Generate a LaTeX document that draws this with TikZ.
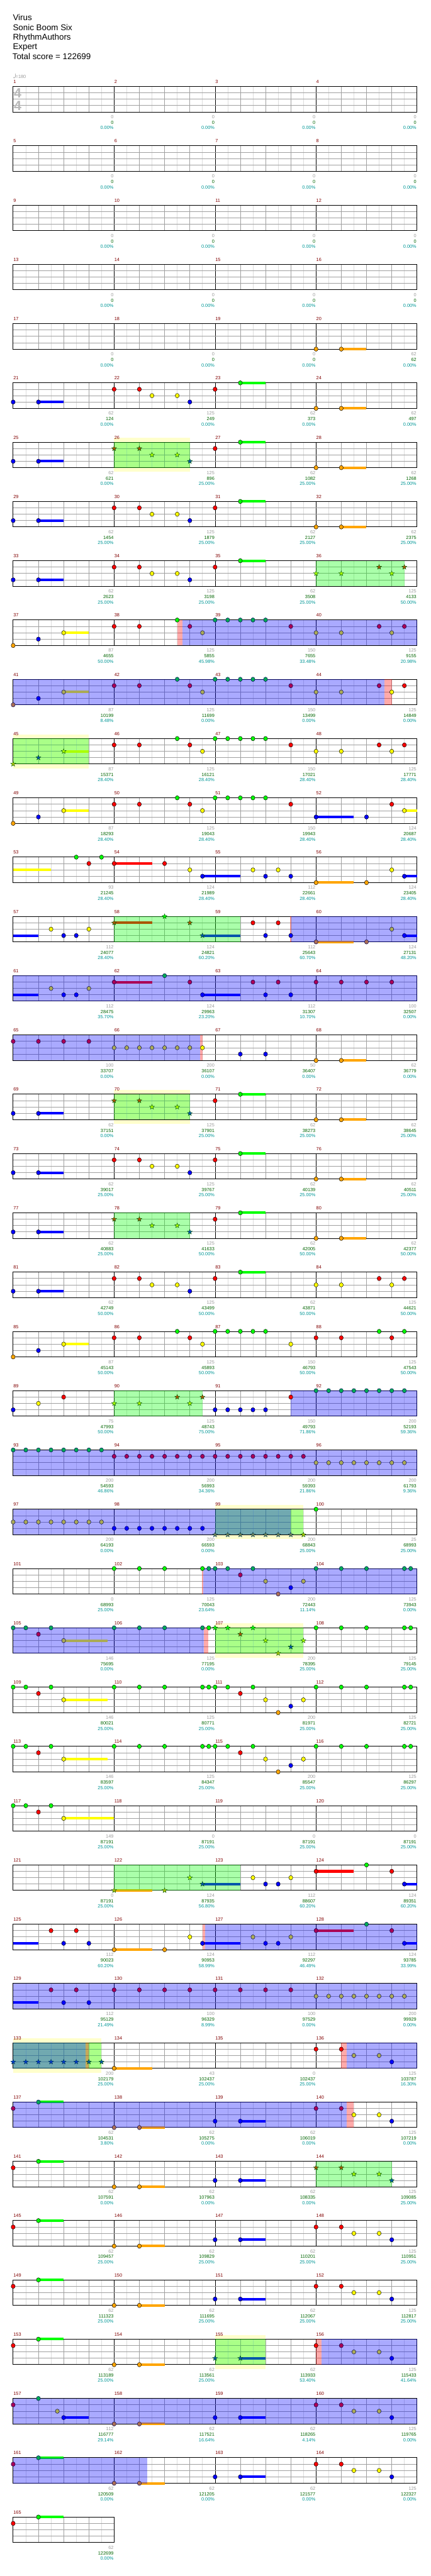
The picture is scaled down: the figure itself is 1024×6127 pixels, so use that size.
\documentclass[tikz,border=0pt]{standalone}
\usepackage{fontspec}
\setmainfont{Liberation Sans}

% lane colours: plain, overdrive (o), star phrase (s), both (t)
\definecolor{n0}{RGB}{0,255,0}\definecolor{n1}{RGB}{255,0,0}\definecolor{n2}{RGB}{255,255,0}
\definecolor{n3}{RGB}{0,0,255}\definecolor{n4}{RGB}{255,165,0}\definecolor{nline}{RGB}{0,0,0}
\definecolor{o0}{RGB}{0,170,85}\definecolor{o1}{RGB}{170,0,85}\definecolor{o2}{RGB}{170,170,85}
\definecolor{o3}{RGB}{0,0,255}\definecolor{o4}{RGB}{170,110,85}\definecolor{oline}{RGB}{0,0,85}
\definecolor{s0}{RGB}{0,255,0}\definecolor{s1}{RGB}{170,85,0}\definecolor{s2}{RGB}{170,255,0}
\definecolor{s3}{RGB}{0,85,170}\definecolor{s4}{RGB}{170,195,0}\definecolor{sline}{RGB}{0,85,0}
\definecolor{t0}{RGB}{0,170,85}\definecolor{t1}{RGB}{113,57,85}\definecolor{t2}{RGB}{113,170,85}
\definecolor{t3}{RGB}{0,57,198}\definecolor{t4}{RGB}{113,130,85}\definecolor{tline}{RGB}{0,57,85}
\definecolor{gridlight}{RGB}{221,221,221}
\definecolor{gridmid}{RGB}{160,160,160}
\definecolor{barred}{RGB}{128,0,0}
\definecolor{ptgray}{RGB}{155,155,155}
\definecolor{ptgreen}{RGB}{0,100,0}
\definecolor{ptteal}{RGB}{0,150,150}
\definecolor{sigray}{RGB}{185,185,185}

\tikzset{
  finegrid/.style={draw=gridlight, line width=0.8pt},
  beatgrid/.style={draw=gridmid, line width=0.8pt},
  bargrid/.style={draw=black, line width=0.9pt},
  lanegrid/.style={draw=gridmid, line width=1.2pt},
  staffframe/.style={draw=black, line width=1.5pt},
  barnum/.style={anchor=base west, inner sep=0pt, text=barred, font=\fontsize{11}{13}\selectfont},
  ptsgray/.style={anchor=base east, inner sep=0pt, text=ptgray, font=\fontsize{11}{13}\selectfont},
  ptstotal/.style={anchor=base east, inner sep=0pt, text=ptgreen, font=\fontsize{11}{13}\selectfont},
  ptspct/.style={anchor=base east, inner sep=0pt, text=ptteal, font=\fontsize{11}{13}\selectfont},
  titletext/.style={anchor=base west, inner sep=0pt, font=\fontsize{20}{24}\selectfont},
  gemstyle/.style={line width=0.7pt},
  starstyle/.style={line width=0.6pt},
  susstyle/.style={line width=6pt},
  spzone/.style={fill=n0, fill opacity=0.333},
  odzone/.style={fill=n3, fill opacity=0.333},
  actzone/.style={fill=n1, fill opacity=0.333},
  bandzone/.style={fill=n2, fill opacity=0.2},
}

% ---------- row helpers ----------
\newcommand\setrow[1]{\pgfmathsetmacro\rowy{205.7+141*(#1-1)}\pgfmathtruncatemacro\currow{#1}}
\newcommand\staff[2]{% first measure, number of measures
  \pgfmathsetmacro\xend{31.3+240*#2}
  \foreach \m in {1,...,#2}{%
    \pgfmathsetmacro\xm{31.3+240*(\m-1)}
    \pgfmathtruncatemacro\mnum{#1+\m-1}
    \foreach \e in {1,3,5,7} \draw[finegrid] ({\xm+30*\e},\rowy) -- ++(0,60.6);
    \foreach \e in {2,4,6} \draw[beatgrid] ({\xm+30*\e},\rowy) -- ++(0,60.6);
    \ifnum\m>1 \draw[bargrid] (\xm,\rowy) -- ++(0,60.6);\fi
    \node[barnum] (bar\mnum) at ({\xm+0.5},{\rowy-7.5}) {\mnum};
  }
  \foreach \l in {1,2,3} \draw[lanegrid] (31.3,{\rowy+15.15*\l}) -- (\xend,{\rowy+15.15*\l});
  \draw[staffframe] (31.3,\rowy) rectangle (\xend,{\rowy+60.6});
}
\newcommand\band[2]{\fill[bandzone] ({31.3+30*#1},{\rowy-10.3}) rectangle ({31.3+30*#2},{\rowy+70.9});}
\newcommand\zone[3]{\fill[#1] ({31.3+30*#2},\rowy) rectangle ({31.3+30*#3},{\rowy+60.6});}
\newcommand\sus[1]{\foreach \a/\b/\l in {#1}{\draw[susstyle, draw=n\l] ({31.3+30*\a},{\rowy+15.15*\l}) -- ({31.3+30*\b},{\rowy+15.15*\l});}}
\newcommand\gems[2]{\foreach \p/\l in {#2}{\filldraw[gemstyle, fill=#1\l, draw=#1line] ({31.3+30*\p},{\rowy+15.15*\l}) ellipse [x radius=4.8, y radius=5.2];}}
\newcommand\stars[2]{\foreach \p/\l in {#2}{%
  \pgfmathsetmacro\px{31.3+30*\p}\pgfmathsetmacro\py{\rowy+15.15*\l}
  \filldraw[starstyle, fill=#1\l, draw=#1line] (\px,{\py-6.2})
    \foreach \k in {1,...,9}{ -- ({\px+(4.4+1.8*cos(180*\k))*cos(90+36*\k)},{\py-(4.4+1.8*cos(180*\k))*sin(90+36*\k)}) } -- cycle;}}
\newcommand\scores[3]{%
  \foreach \v [count=\i] in {#1} \node[ptsgray] (pts-\currow-\i) at ({31.3+240*\i-1.2},{\rowy+76.4}) {\v};
  \foreach \v [count=\i] in {#2} \node[ptstotal] (tot-\currow-\i) at ({31.3+240*\i-1.2},{\rowy+89.8}) {\v};
  \foreach \v [count=\i] in {#3} \node[ptspct] (pct-\currow-\i) at ({31.3+240*\i-1.2},{\rowy+102.4}) {\v\%};
}
% repeated phrases
\newcommand\patA{\sus{2/4/3,18/20/0,26/28/4}\gems{n}{0/3,2/3,8/1,10/1,11/2,13/2,14/3,16/1,18/0,24/4,26/4}}
\newcommand\patAstar{\sus{2/4/3,18/20/0,26/28/4}\zone{spzone}{8}{14}\gems{n}{0/3,2/3,16/1,18/0,24/4,26/4}\stars{s}{8/1,10/1,11/2,13/2,14/3}}
\newcommand\patC{\sus{4/7.47/2}\gems{n}{0/0,1/0,3/0,2/1,4/2,8/0,10/0,12/0,15/0,15.5/0,16/0,17/0,19/0,18/1,20/2,21/4,22/3,23/2,24/0,26/0,28/0,31/0,31.5/0}}
\newcommand\patD{\sus{2/4/0,10/12/4,18/20/3}\gems{n}{0/1,2/0,8/4,10/4,16/3,18/3,24/1,26/1,27/2,29/2,30/3}}

\begin{document}
\begin{tikzpicture}[x=1pt,y=-1pt]
\useasboundingbox (0,0) rectangle (1024,6127);
% ---------- header ----------
\node[titletext] (song) at (30.5,49.3) {Virus};
\node[titletext] (artist) at (30.5,72) {Sonic Boom Six};
\node[titletext] (charter) at (30.5,95) {RhythmAuthors};
\node[titletext] (level) at (30.5,118) {Expert};
\node[titletext] (total) at (29.5,140.7) {Total score = 122699};
\fill[sigray] (33.6,184.6) ellipse [x radius=2.3, y radius=1.7];
\draw[sigray, line width=0.6pt] (35.7,184.3) -- (35.7,175.2);
\node[anchor=base west, inner sep=0pt, text=ptgray, font=\fontsize{11}{13}\selectfont] (tempo) at (36.8,186.2) {=180};
% ---------- measures 1-20 ----------
\setrow{1}\staff{1}{4}
\node[anchor=base west, inner sep=0pt, text=sigray, font=\fontsize{32}{34}\selectfont\bfseries] (sigtop) at (33,232.3) {4};
\node[anchor=base west, inner sep=0pt, text=sigray, font=\fontsize{32}{34}\selectfont\bfseries] (sigbot) at (33,262.3) {4};
\scores{0,0,0,0}{0,0,0,0}{0.00,0.00,0.00,0.00}
\foreach \r in {2,3,4}{\setrow{\r}\pgfmathtruncatemacro\fm{4*\r-3}\staff{\fm}{4}\scores{0,0,0,0}{0,0,0,0}{0.00,0.00,0.00,0.00}}
\setrow{5}\staff{17}{4}\sus{26/28/4}\gems{n}{24/4,26/4}
\scores{0,0,0,62}{0,0,0,62}{0.00,0.00,0.00,0.00}
% ---------- measures 21-44 ----------
\setrow{6}\staff{21}{4}\patA
\scores{62,125,62,62}{124,249,373,497}{0.00,0.00,0.00,0.00}
\setrow{7}\band{8}{14}\staff{25}{4}\patAstar
\scores{62,125,62,62}{621,896,1082,1268}{0.00,25.00,25.00,25.00}
\setrow{8}\staff{29}{4}\patA
\scores{62,125,62,62}{1454,1879,2127,2375}{25.00,25.00,25.00,25.00}
\setrow{9}\staff{33}{4}\sus{2/4/3,18/20/0}\zone{spzone}{24}{31}
\gems{n}{0/3,2/3,8/1,10/1,11/2,13/2,14/3,16/1,18/0}\stars{s}{24/2,26/2,29/1,30/2,31/1}
\scores{62,125,62,125}{2623,3198,3508,4133}{25.00,25.00,25.00,50.00}
\setrow{10}\staff{37}{4}\sus{4/6/2}\zone{actzone}{13}{13.4}\zone{odzone}{13.4}{32}
\gems{n}{0/4,2/3,4/2,8/1,10/1,13/0}
\gems{o}{14/1,15/2,16/0,17/0,18/0,19/0,20/0,22/1,24/2,26/2,29/1,30/2,31/1}
\scores{87,125,150,125}{4655,5855,7655,9155}{50.00,45.98,33.48,20.98}
\setrow{11}\staff{41}{4}\sus{4/6/2}\zone{odzone}{0}{29.43}\zone{actzone}{29.43}{30}
\gems{o}{0/4,2/3,4/2,8/1,10/1,13/0,14/1,15/2,16/0,17/0,18/0,19/0,20/0,22/1,24/2,26/2,29/1}
\gems{n}{30/2,31/1}
\scores{87,125,150,125}{10199,11699,13499,14849}{8.48,0.00,0.00,0.00}
% ---------- measures 45-64 ----------
\setrow{12}\band{0}{6}\staff{45}{4}\sus{4/6/2}\zone{spzone}{0}{6}
\stars{s}{0/4,2/3,4/2}
\gems{n}{8/1,10/1,13/0,14/1,15/2,16/0,17/0,18/0,19/0,20/0,22/1,24/2,26/2,29/1,30/2,31/1}
\scores{87,125,150,125}{15371,16121,17021,17771}{28.40,28.40,28.40,28.40}
\setrow{13}\staff{49}{4}\sus{4/6/2,24/27/3,31/32/2}
\gems{n}{0/4,2/3,4/2,8/1,10/1,13/0,14/1,15/2,16/0,17/0,18/0,19/0,20/0,22/1,24/3,28/3,30/1,31/2}
\scores{87,125,150,124}{18293,19043,19943,20687}{28.40,28.40,28.40,28.40}
\setrow{14}\staff{53}{4}\sus{0/3/2,8/11/1,15/18/3,24/27/4,31/32/3}
\gems{n}{5/0,6/1,7/0,8/1,12/1,14/2,15/3,19/2,20/3,21/2,22/3,24/4,28/4,30/2,31/3}
\scores{93,124,112,124}{21245,21989,22661,23405}{28.40,28.40,28.40,28.40}
\setrow{15}\staff{57}{4}\sus{0/2/3,8/11/1,15/18/3,24/27/4,31/32/3}
\zone{spzone}{8}{18}\zone{actzone}{21.95}{22.05}\zone{odzone}{22.05}{32}
\gems{n}{3/2,4/3,5/3,6/2,19/1,20/3,21/1,22/3}\stars{s}{8/1,12/0,14/1,15/3}
\gems{o}{24/4,28/4,30/2,31/3}
\scores{112,124,112,124}{24077,24821,25643,27131}{28.40,60.20,60.70,48.20}
\setrow{16}\staff{61}{4}\sus{0/2/3,8/11/1,15/18/3}\zone{odzone}{0}{32}
\gems{o}{3/2,4/3,5/3,6/2,8/1,12/0,14/1,15/3,19/1,20/3,21/1,22/3,24/1,26/1,28/1,30/1}
\scores{112,124,112,100}{28475,29963,31307,32507}{35.70,23.20,10.70,0.00}
% ---------- measures 65-84 ----------
\setrow{17}\staff{65}{4}\sus{26/28/4}\zone{odzone}{0}{14.8}\zone{actzone}{14.8}{15}
\gems{o}{0/1,2/1,4/1,6/1,8/2,9/2,10/2,11/2,12/2,13/2,14/2}\gems{n}{15/2,18/3,20/3,24/4,26/4}
\scores{100,200,50,62}{33707,36107,36407,36779}{0.00,0.00,0.00,0.00}
\setrow{18}\band{8}{14}\staff{69}{4}\patAstar
\scores{62,125,62,62}{37151,37901,38273,38645}{0.00,25.00,25.00,25.00}
\setrow{19}\staff{73}{4}\patA
\scores{62,125,62,62}{39017,39767,40139,40511}{25.00,25.00,25.00,25.00}
\setrow{20}\staff{77}{4}\patAstar
\scores{62,125,62,62}{40883,41633,42005,42377}{25.00,50.00,50.00,50.00}
\setrow{21}\staff{81}{4}\sus{2/4/3,18/20/0}
\gems{n}{0/3,2/3,8/1,10/1,11/2,13/2,14/3,16/1,18/0,24/2,26/2,29/1,30/2,31/1}
\scores{62,125,62,125}{42749,43499,43871,44621}{50.00,50.00,50.00,50.00}
% ---------- measures 85-104 ----------
\setrow{22}\staff{85}{4}\sus{4/6/2}
\gems{n}{0/4,2/3,4/2,8/1,10/1,13/0,14/1,15/2,16/0,17/0,18/0,19/0,20/0,22/2,24/1,26/1,29/0,30/1,31/0}
\scores{87,125,150,125}{45143,45893,46793,47543}{50.00,50.00,50.00,50.00}
\setrow{23}\staff{89}{4}\zone{spzone}{8}{15}\zone{odzone}{22}{32}
\gems{n}{0/3,2/2,4/1,16/3,17/3,18/3,19/3,20/3,22/1}\stars{s}{8/2,10/2,13/1,14/2,15/1}
\gems{o}{24/0,25/0,26/0,27/0,28/0,29/0,30/0,31/0}
\scores{75,125,150,200}{47993,48743,49793,52193}{50.00,75.00,71.86,59.36}
\setrow{24}\staff{93}{4}\zone{odzone}{0}{32}
\gems{o}{0/0,1/0,2/0,3/0,4/0,5/0,6/0,7/0,8/1,9/1,10/1,11/1,12/1,13/1,14/1,15/1,16/1,17/1,18/1,19/1,20/1,21/1,22/1,23/1,24/2,25/2,26/2,27/2,28/2,29/2,30/2,31/2}
\scores{200,200,200,200}{54593,56993,59393,61793}{46.86,34.36,21.86,9.36}
\setrow{25}\band{16}{23}\staff{97}{4}\zone{spzone}{16}{23}\zone{odzone}{0}{22}
\gems{o}{0/2,1/2,2/2,3/2,4/2,5/2,6/2,7/2,8/3,9/3,10/3,11/3,12/3,13/3,14/3,15/3}
\stars{t}{16/4,17/4,18/4,19/4,20/4,21/4,22/4}\stars{s}{23/4}\gems{n}{24/0}
\scores{200,200,200,25}{64193,66593,68843,68993}{0.00,0.00,25.00,25.00}
\setrow{26}\staff{101}{4}\zone{actzone}{14.97}{15.07}\zone{odzone}{15.07}{32}
\gems{n}{8/0,10/0,12/0,15/0}
\gems{o}{15.5/0,16/0,17/0,19/0,18/1,20/2,21/4,22/3,23/2,24/0,26/0,28/0,31/0,31.5/0}
\scores{0,125,200,125}{68993,70043,72443,73943}{25.00,23.64,11.14,0.00}
% ---------- measures 105-124 ----------
\setrow{27}\band{16}{23}\staff{105}{4}\sus{4/7.47/2}
\zone{odzone}{0}{15.13}\zone{actzone}{15.13}{15.47}\zone{spzone}{16}{23}
\gems{o}{0/0,1/0,3/0,2/1,4/2,8/0,10/0,12/0,15/0}\gems{n}{15.5/0,24/0,26/0,28/0,31/0,31.5/0}
\stars{s}{16/0,17/0,19/0,18/1,20/2,21/4,22/3,23/2}
\scores{146,125,200,125}{75695,77195,78395,79145}{0.00,0.00,25.00,25.00}
\setrow{28}\staff{109}{4}\patC
\scores{146,125,200,125}{80021,80771,81971,82721}{25.00,25.00,25.00,25.00}
\setrow{29}\staff{113}{4}\patC
\scores{146,125,200,125}{83597,84347,85547,86297}{25.00,25.00,25.00,25.00}
\setrow{30}\staff{117}{4}\sus{4/8/2}\gems{n}{0/0,1/0,3/0,2/1,4/2}
\scores{149,0,0,0}{87191,87191,87191,87191}{25.00,25.00,25.00,25.00}
\setrow{31}\staff{121}{4}\sus{8/11/4,15/18/3,24/27/1,31/32/3}\zone{spzone}{8}{18}
\stars{s}{8/4,12/4,14/2,15/3}\gems{n}{19/2,20/3,21/3,22/2,24/1,28/0,30/1,31/3}
\scores{0,124,112,124}{87191,87935,88607,89351}{25.00,56.80,60.20,60.20}
% ---------- measures 125-144 ----------
\setrow{32}\staff{125}{4}\sus{0/2/3,8/11/4,15/18/3,24/27/1,31/32/3}
\zone{actzone}{15}{15.2}\zone{odzone}{15.2}{32}
\gems{n}{3/1,5/1,4/3,6/3,8/4,12/4,14/2,15/3}\gems{o}{19/2,20/3,21/3,22/2,24/1,28/0,30/1,31/3}
\scores{112,124,112,124}{90023,90953,92297,93785}{60.20,58.99,46.49,33.99}
\setrow{33}\staff{129}{4}\sus{0/2/3}\zone{odzone}{0}{32}
\gems{o}{3/1,5/1,4/3,6/3,8/1,10/1,12/1,14/1,16/1,18/1,20/1,22/1,24/2,25/2,26/2,27/2,28/2,29/2,30/2,31/2}
\scores{112,100,100,200}{95129,96329,97529,99929}{21.49,8.99,0.00,0.00}
\setrow{34}\band{0}{7}\staff{133}{4}\sus{8/11/4}
\zone{spzone}{0}{7}\zone{odzone}{0}{5.73}\zone{actzone}{5.73}{6}\zone{actzone}{26}{26.43}\zone{odzone}{26.43}{32}
\stars{t}{0/3,1/3,2/3,3/3,4/3,5/3}\stars{s}{6/3,7/3}\gems{n}{8/4,24/1,26/1}\gems{o}{27/2,29/2,30/3}
\scores{200,43,0,125}{102179,102437,102437,103787}{25.00,25.00,25.00,16.30}
\setrow{35}\staff{137}{4}\sus{2/4/0,10/12/4,18/20/3}\zone{odzone}{0}{26.43}\zone{actzone}{26.43}{27}
\gems{o}{0/1,2/0,8/4,10/4,16/3,18/3,24/1,26/1}\gems{n}{27/2,29/2,30/3}
\scores{62,62,62,125}{104531,105275,106019,107219}{3.80,0.00,0.00,0.00}
\setrow{36}\staff{141}{4}\sus{2/4/0,10/12/4,18/20/3}\zone{spzone}{24}{30}
\gems{n}{0/1,2/0,8/4,10/4,16/3,18/3}\stars{s}{24/1,26/1,27/2,29/2,30/3}
\scores{62,62,62,125}{107591,107963,108335,109085}{0.00,0.00,0.00,25.00}
% ---------- measures 145-165 ----------
\setrow{37}\staff{145}{4}\patD
\scores{62,62,62,125}{109457,109829,110201,110951}{25.00,25.00,25.00,25.00}
\setrow{38}\staff{149}{4}\patD
\scores{62,62,62,125}{111323,111695,112067,112817}{25.00,25.00,25.00,25.00}
\setrow{39}\band{16}{20}\staff{153}{4}\sus{2/4/0,10/12/4,18/20/3}
\zone{spzone}{16}{20}\zone{actzone}{24}{24.43}\zone{odzone}{24.43}{32}
\gems{n}{0/1,2/0,8/4,10/4,24/1}\stars{s}{16/3,18/3}\gems{o}{26/1,27/2,29/2,30/3}
\scores{62,62,62,125}{113189,113561,113933,115433}{25.00,25.00,53.40,41.64}
\setrow{40}\staff{157}{4}\sus{4/6/3,10/12/4,18/20/3}\zone{odzone}{0}{32}
\gems{o}{0/1,2/0,3.5/2,4/3,8/4,10/4,16/3,18/3,24/1,26/1,27/2,29/2,30/3}
\scores{112,62,62,125}{116777,117521,118265,119765}{29.14,16.64,4.14,0.00}
\setrow{41}\staff{161}{4}\sus{2/4/0,10/12/4,18/20/3}\zone{odzone}{0}{10.6}
\gems{o}{0/1,2/0,8/4,10/4}\gems{n}{16/3,18/3,24/1,26/1,27/2,29/2,30/3}
\scores{62,62,62,125}{120509,121205,121577,122327}{0.00,0.00,0.00,0.00}
\setrow{42}\staff{165}{1}\sus{2/4/0}\gems{n}{0/1,2/0}
\scores{62}{122699}{0.00}
\end{tikzpicture}
\end{document}
